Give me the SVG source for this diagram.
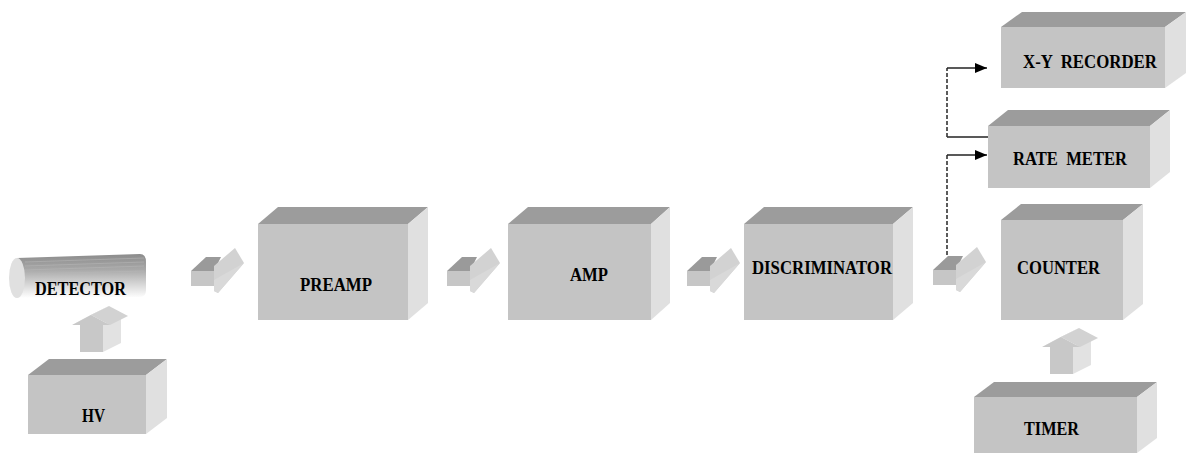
<svg xmlns="http://www.w3.org/2000/svg" width="1189" height="454" viewBox="0 0 1189 454">
<defs>
<style>
.front{fill:#c4c4c4}
.top{fill:#9c9c9c}
.side{fill:#e0e0e0}
.conn{fill:none;stroke:#222;stroke-width:1.6}
.dash{fill:none;stroke:#333;stroke-width:1.6;stroke-dasharray:4 2}
</style>
<linearGradient id="cyl" x1="0" y1="0" x2="0" y2="1">
<stop offset="0" stop-color="#8c8c8c"/>
<stop offset="0.35" stop-color="#a8a8a8"/>
<stop offset="0.7" stop-color="#d8d8d8"/>
<stop offset="1" stop-color="#ffffff"/>
</linearGradient>
<marker id="ah" viewBox="0 0 12 10" refX="12" refY="5" markerWidth="12" markerHeight="10" markerUnits="userSpaceOnUse" orient="auto">
<path d="M0,0 L12,5 L0,10 Z" fill="#000"/>
</marker>
<g id="rarrow">
<rect x="0" y="0" width="23" height="15" fill="#c6c6c6"/>
<polygon points="0,0 15,-14 30,-14 23,0" fill="#9a9a9a"/>
<polygon points="23,-5 44,-23 53,-8 27,22 23,20" fill="#d2d2d2"/>
<polygon points="23,9 53,-8 27,22 23,20" fill="#d9d9d9"/>
</g>
<g id="uarrow">
<polygon points="31,1 49,-8 49,19 31,28" fill="#e2e2e2"/>
<polygon points="0,1 19,-9 37,-18 18,-8" fill="#c2c2c2"/>
<polygon points="19,-9 37,-18 56,-8 38,1" fill="#d2d2d2"/>
<polygon points="8,28 8,1 0,1 19,-9 38,1 31,1 31,28" fill="#c8c8c8"/>
</g>
</defs>
<rect width="1189" height="454" fill="#ffffff"/>

<g id="connectors">
<use href="#rarrow" x="191" y="271"/>
<use href="#rarrow" x="447" y="271"/>
<use href="#rarrow" x="687" y="271"/>
<use href="#rarrow" x="933" y="270"/>
<use href="#uarrow" x="72" y="324"/>
<use href="#uarrow" x="1042" y="346"/>
<path class="conn" d="M988,137 L947,137"/>
<path class="dash" d="M947,137 L947,68"/>
<path class="conn" d="M947,68 L987,68" marker-end="url(#ah)"/>
<path class="dash" d="M947,255 L947,155"/>
<path class="conn" d="M947,155 L987,155" marker-end="url(#ah)"/>
</g>

<g font-family="'Liberation Serif', 'DejaVu Serif', serif" font-weight="bold" font-size="19" fill="#000">
<g id="detector">
<path d="M17,258 L140,254 Q146,254 146,262 L146,290 Q146,297 140,297 L17,298 Z" fill="url(#cyl)"/>
<g stroke="#b8b8b8" stroke-width="0.8" opacity="0.7">
<line x1="25" y1="262" x2="144" y2="258"/>
<line x1="25" y1="266" x2="144" y2="262"/>
<line x1="25" y1="270" x2="144" y2="266"/>
<line x1="25" y1="274" x2="144" y2="271"/>
</g>
<ellipse cx="17" cy="278" rx="8" ry="20" fill="#e0e0e0"/>
<text x="35" y="295" textLength="91" lengthAdjust="spacingAndGlyphs">DETECTOR</text>
</g>

<g id="hv">
<polygon class="top" points="28,375 49,359 167,359 146,375"/>
<polygon class="side" points="146,375 167,359 167,418 146,434"/>
<rect class="front" x="28" y="375" width="118" height="59"/>
<text x="82" y="422" textLength="23" lengthAdjust="spacingAndGlyphs">HV</text>
</g>

<g id="preamp">
<polygon class="top" points="258,224 278,207 428,207 408,224"/>
<polygon class="side" points="408,224 428,207 428,303 408,320"/>
<rect class="front" x="258" y="224" width="150" height="96"/>
<text x="300" y="291" textLength="72" lengthAdjust="spacingAndGlyphs">PREAMP</text>
</g>

<g id="amp">
<polygon class="top" points="508,224 528,207 670,207 651,224"/>
<polygon class="side" points="651,224 670,207 670,303 651,320"/>
<rect class="front" x="508" y="224" width="143" height="96"/>
<text x="570" y="281" textLength="38" lengthAdjust="spacingAndGlyphs">AMP</text>
</g>

<g id="discriminator">
<polygon class="top" points="744,224 764,207 913,207 893,224"/>
<polygon class="side" points="893,224 913,207 913,303 893,320"/>
<rect class="front" x="744" y="224" width="149" height="96"/>
<text x="752" y="274" textLength="140" lengthAdjust="spacingAndGlyphs">DISCRIMINATOR</text>
</g>

<g id="counter">
<polygon class="top" points="1001,220 1021,204 1143,204 1123,220"/>
<polygon class="side" points="1123,220 1143,204 1143,304 1123,320"/>
<rect class="front" x="1001" y="220" width="122" height="100"/>
<text x="1017" y="274" textLength="83" lengthAdjust="spacingAndGlyphs">COUNTER</text>
</g>

<g id="timer">
<polygon class="top" points="974,397 994,382 1157,382 1137,397"/>
<polygon class="side" points="1137,397 1157,382 1157,438 1137,453"/>
<rect class="front" x="974" y="397" width="163" height="56"/>
<text x="1024" y="435" textLength="55" lengthAdjust="spacingAndGlyphs">TIMER</text>
</g>

<g id="ratemeter">
<polygon class="top" points="988,126 1008,110 1170,110 1150,126"/>
<polygon class="side" points="1150,126 1170,110 1170,172 1150,188"/>
<rect class="front" x="988" y="126" width="162" height="62"/>
<text x="1013" y="165" textLength="114" lengthAdjust="spacingAndGlyphs" xml:space="preserve">RATE  METER</text>
</g>

<g id="xyrecorder">
<polygon class="top" points="1001,27 1022,12 1186,12 1165,27"/>
<polygon class="side" points="1165,27 1186,12 1186,73 1165,88"/>
<rect class="front" x="1001" y="27" width="164" height="61"/>
<text x="1023" y="68" textLength="134" lengthAdjust="spacingAndGlyphs" xml:space="preserve">X-Y  RECORDER</text>
</g>
</g>
</svg>
